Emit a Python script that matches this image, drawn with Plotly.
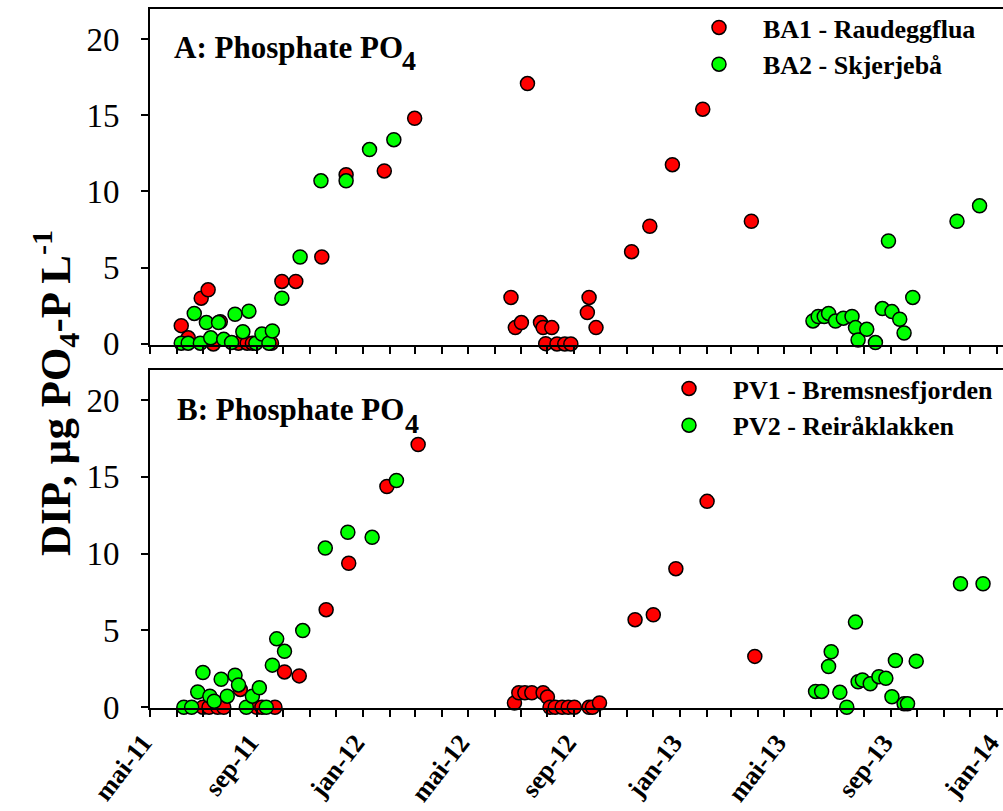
import plotly.graph_objects as go

# ---------------- data ----------------
ba1_dates = ["2011-06-06", "2011-06-14", "2011-06-29", "2011-07-07", "2011-07-13", "2011-07-21",
             "2011-08-11", "2011-08-21", "2011-08-27", "2011-09-18", "2011-09-30", "2011-10-16",
             "2011-11-15", "2011-12-13", "2012-01-26", "2012-03-01",
             "2012-06-20", "2012-06-25", "2012-07-02", "2012-07-09", "2012-07-24", "2012-07-27",
             "2012-07-30", "2012-08-06", "2012-08-12", "2012-08-21", "2012-08-28", "2012-09-16",
             "2012-09-18", "2012-09-26", "2012-11-06", "2012-11-27", "2012-12-23", "2013-01-27",
             "2013-03-24"]
ba1_vals = [1.2, 0.4, 3.0, 3.55, 0.0, 1.45,
            0.05, 0.05, 0.05, 0.05, 4.1, 4.1,
            5.7, 11.1, 11.35, 14.8,
            3.05, 1.07, 1.4, 17.08, 1.4, 1.07,
            0.02, 1.07, 0.0, 0.0, 0.0, 2.06,
            3.05, 1.07, 6.05, 7.72, 11.76, 15.4,
            8.05]

ba2_dates = ["2011-06-06", "2011-06-14", "2011-06-21", "2011-06-28", "2011-07-05", "2011-07-10",
             "2011-07-19", "2011-07-25", "2011-08-03", "2011-08-07", "2011-08-16", "2011-08-23",
             "2011-08-31", "2011-09-07", "2011-09-15", "2011-09-19", "2011-09-30", "2011-10-21",
             "2011-11-14", "2011-12-13", "2012-01-09", "2012-02-06",
             "2013-06-03", "2013-06-09", "2013-06-16", "2013-06-21", "2013-06-29", "2013-07-08",
             "2013-07-18", "2013-07-22", "2013-07-25", "2013-08-04", "2013-08-14", "2013-08-22",
             "2013-08-29", "2013-09-02", "2013-09-11", "2013-09-16", "2013-09-26", "2013-11-16",
             "2013-12-12"]
ba2_vals = [0.05, 0.05, 2.0, 0.05, 1.4, 0.4,
            1.4, 0.3, 0.1, 1.95, 0.8, 2.15,
            0.05, 0.65, 0.05, 0.85, 3.0, 5.7,
            10.7, 10.7, 12.75, 13.4,
            1.51, 1.8, 1.8, 2.0, 1.5, 1.69,
            1.8, 1.07, 0.26, 0.96, 0.09, 2.32,
            6.75, 2.12, 1.62, 0.72, 3.05, 8.05,
            9.06]

pv1_dates = ["2011-07-01", "2011-07-08", "2011-07-18", "2011-07-25", "2011-08-13", "2011-09-01",
             "2011-09-07", "2011-09-22", "2011-10-03", "2011-10-20", "2011-11-20", "2011-12-16",
             "2012-01-29", "2012-03-05",
             "2012-06-24", "2012-06-29", "2012-07-06", "2012-07-14", "2012-07-27", "2012-08-01",
             "2012-08-04", "2012-08-10", "2012-08-18", "2012-08-25", "2012-09-01", "2012-09-18",
             "2012-09-22", "2012-09-30", "2012-11-10", "2012-12-01", "2012-12-27", "2013-02-01",
             "2013-03-28"]
pv1_vals = [0.0, 0.0, 0.0, 0.0, 1.16, 0.0,
            0.0, 0.0, 2.3, 2.04, 6.35, 9.37,
            14.37, 17.1,
            0.28, 0.94, 0.94, 0.94, 0.94, 0.66,
            0.0, 0.0, 0.0, 0.0, 0.0, 0.0,
            0.0, 0.28, 5.7, 6.02, 9.02, 13.4,
            3.31]

pv2_dates = ["2011-06-09", "2011-06-18", "2011-06-25", "2011-07-01", "2011-07-09", "2011-07-14",
             "2011-07-22", "2011-07-29", "2011-08-07", "2011-08-11", "2011-08-20", "2011-08-27",
             "2011-09-04", "2011-09-12", "2011-09-19", "2011-09-24", "2011-10-03", "2011-10-24",
             "2011-11-19", "2011-12-15", "2012-01-12", "2012-02-09",
             "2013-06-06", "2013-06-13", "2013-06-21", "2013-06-24", "2013-07-04", "2013-07-12",
             "2013-07-22", "2013-07-25", "2013-07-30", "2013-08-08", "2013-08-18", "2013-08-26",
             "2013-09-02", "2013-09-06", "2013-09-16", "2013-09-20", "2013-09-30", "2013-11-20",
             "2013-12-16"]
pv2_vals = [0.0, 0.0, 0.99, 2.26, 0.72, 0.39,
            1.82, 0.72, 2.08, 1.45, 0.0, 0.72,
            1.27, 0.0, 2.74, 4.45, 3.64, 4.99,
            10.36, 11.39, 11.06, 14.76,
            1.03, 1.03, 2.65, 3.61, 0.97, 0.0,
            5.54, 1.66, 1.77, 1.53, 1.99, 1.88,
            0.68, 3.04, 0.22, 0.22, 3.0, 8.04,
            8.04]

x_tick_dates = ["2011-05-01", "2011-09-01", "2012-01-01", "2012-05-01", "2012-09-01",
                "2013-01-01", "2013-05-01", "2013-09-01", "2014-01-01"]
x_tick_labels = ["mai-11", "sep-11", "jan-12", "mai-12", "sep-12",
                 "jan-13", "mai-13", "sep-13", "jan-14"]
y_ticks = [0, 5, 10, 15, 20]

# ---------------- figure ----------------
W, H = 1003, 811
FONT = "Liberation Serif"
RED = "#FF0000"
GREEN = "#00FF00"


def px(v):
    return v / W


def py(v):
    return 1 - v / H


def marker(color):
    return dict(symbol="circle", size=14, color=color, line=dict(color="black", width=1.5))


fig = go.Figure()
fig.add_trace(go.Scatter(x=ba1_dates, y=ba1_vals, mode="markers", name="BA1 - Raudeggflua",
                         marker=marker(RED), xaxis="x", yaxis="y", legend="legend", cliponaxis=False))
fig.add_trace(go.Scatter(x=ba2_dates, y=ba2_vals, mode="markers", name="BA2 - Skjerjebå",
                         marker=marker(GREEN), xaxis="x", yaxis="y", legend="legend", cliponaxis=False))
fig.add_trace(go.Scatter(x=pv1_dates, y=pv1_vals, mode="markers", name="PV1 - Bremsnesfjorden",
                         marker=marker(RED), xaxis="x2", yaxis="y2", legend="legend2", cliponaxis=False))
fig.add_trace(go.Scatter(x=pv2_dates, y=pv2_vals, mode="markers", name="PV2 - Reiråklakken",
                         marker=marker(GREEN), xaxis="x2", yaxis="y2", legend="legend2", cliponaxis=False))

x_range = ["2011-05-01", "2014-01-08"]
xcommon = dict(
    type="date", range=x_range, domain=[px(150), 1.0], automargin=False,
    showline=True, linecolor="black", linewidth=2, mirror=True,
    showgrid=False, zeroline=False,
    tickmode="array", tickvals=x_tick_dates, ticktext=x_tick_labels,
    ticks="outside", ticklen=7, tickwidth=1.5, tickcolor="black",
    minor=dict(tickmode="linear", tick0="2011-05-01", dtick="M1", ticks="outside",
               ticklen=7, tickwidth=1.5, tickcolor="black", showgrid=False),
)
ycommon = dict(
    automargin=False,
    showline=True, linecolor="black", linewidth=2, mirror=False,
    showgrid=False, zeroline=False,
    tickmode="array", tickvals=y_ticks, ticktext=[str(v) for v in y_ticks],
    ticks="outside", ticklen=7, tickwidth=1.5, tickcolor="black",
    tickfont=dict(family=FONT, size=33, color="black"),
    ticklabelstandoff=15,
)

legend_font = dict(family=FONT, size=26, color="black", weight="bold")

fig.update_layout(
    width=W, height=H,
    margin=dict(l=0, r=0, t=0, b=0, autoexpand=False),
    paper_bgcolor="white", plot_bgcolor="white",
    font=dict(family=FONT, color="black"),
    xaxis=dict(**xcommon, anchor="y", showticklabels=False),
    yaxis=dict(**ycommon, anchor="x", domain=[py(345), py(9)], range=[-0.07, 21.97]),
    xaxis2=dict(**xcommon, anchor="y2", showticklabels=True, tickangle=-52,
                tickfont=dict(family=FONT, size=26, color="black", weight="bold"),
                ticklabelstandoff=0, ticklabelshift=-7, ticklabeloverflow="allow"),
    yaxis2=dict(**ycommon, anchor="x2", domain=[py(708), py(370)], range=[-0.05, 21.95]),
    legend=dict(x=px(675), y=py(4), xanchor="left", yanchor="top",
                bgcolor="rgba(0,0,0,0)", itemwidth=78, font=legend_font),
    legend2=dict(x=px(645), y=py(365), xanchor="left", yanchor="top",
                 bgcolor="rgba(0,0,0,0)", itemwidth=78, font=legend_font),
    showlegend=True,
)

title_font = dict(family=FONT, size=31, color="black", weight="bold")
sub_font = dict(family=FONT, size=28, color="black", weight="bold")
fig.add_annotation(text="A: Phosphate PO", xref="paper", yref="paper", x=px(172), y=py(47),
                   xanchor="left", yanchor="middle", showarrow=False, font=title_font)
fig.add_annotation(text="4", xref="paper", yref="paper", x=px(400), y=py(61),
                   xanchor="left", yanchor="middle", showarrow=False, font=sub_font)
fig.add_annotation(text="B: Phosphate PO", xref="paper", yref="paper", x=px(175), y=py(409),
                   xanchor="left", yanchor="middle", showarrow=False, font=title_font)
fig.add_annotation(text="4", xref="paper", yref="paper", x=px(403), y=py(423),
                   xanchor="left", yanchor="middle", showarrow=False, font=sub_font)
fig.add_annotation(text="DIP, µg PO<sub>4</sub>-P L<sup>-1</sup>", xref="paper", yref="paper",
                   x=px(55), y=py(393), xanchor="center", yanchor="middle", textangle=-90,
                   showarrow=False, font=dict(family=FONT, size=43, color="black", weight="bold"))

fig.write_html("out.html")
